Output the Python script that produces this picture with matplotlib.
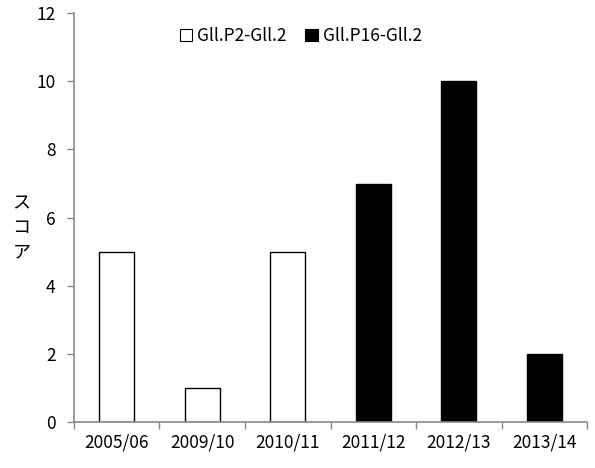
import numpy as np
import matplotlib.pyplot as plt

seasons = ['2005/06', '2009/10', '2010/11', '2011/12', '2012/13', '2013/14']
p2_scores = [5, 1, 5, np.nan, np.nan, np.nan]
p16_scores = [np.nan, np.nan, np.nan, 7, 10, 2]
labels = ['Gll.P2-Gll.2', 'Gll.P16-Gll.2']

plt.rcParams['font.family'] = ['Noto Sans CJK JP', 'DejaVu Sans']

fig = plt.figure(figsize=(5.95, 4.68), dpi=100)
ax = fig.add_axes([0.124, 0.098, 0.863, 0.874])

x = np.arange(len(seasons))
w = 0.41
ax.bar(x, p2_scores, w, color='white', edgecolor='black', linewidth=1.0, label=labels[0])
ax.bar(x, p16_scores, w, color='black', edgecolor='black', linewidth=1.0, label=labels[1])

ax.set_xlim(-0.5, len(seasons) - 0.5)
ax.set_ylim(0, 12)
ax.set_yticks(range(0, 13, 2))
ax.set_xticks(x)
ax.set_xticklabels(seasons, fontsize=12.5)
ax.set_xticks(np.arange(len(seasons) + 1) - 0.5, minor=True)
ax.tick_params(axis='x', which='major', length=0, pad=8)
ax.tick_params(axis='x', which='minor', length=5, color='#888888', width=1)
ax.tick_params(axis='y', length=5, color='#888888', width=1, labelsize=12.5, pad=8)

for s in ['top', 'right']:
    ax.spines[s].set_visible(False)
for s in ['left', 'bottom']:
    ax.spines[s].set_color('#888888')
    ax.spines[s].set_linewidth(1.2)

fig.text(0.036, 0.513, '\n'.join('スコア'), fontsize=13, ha='center', va='center',
         linespacing=1.45)

leg = ax.legend(loc='upper center', bbox_to_anchor=(0.442, 1.005), ncol=2, frameon=False,
                fontsize=12.5, handlelength=0.7, handleheight=0.7, handletextpad=0.3,
                columnspacing=1.1)
for h in leg.legend_handles:
    h.set_linewidth(0.8)

fig.savefig('out.png', dpi=100)
